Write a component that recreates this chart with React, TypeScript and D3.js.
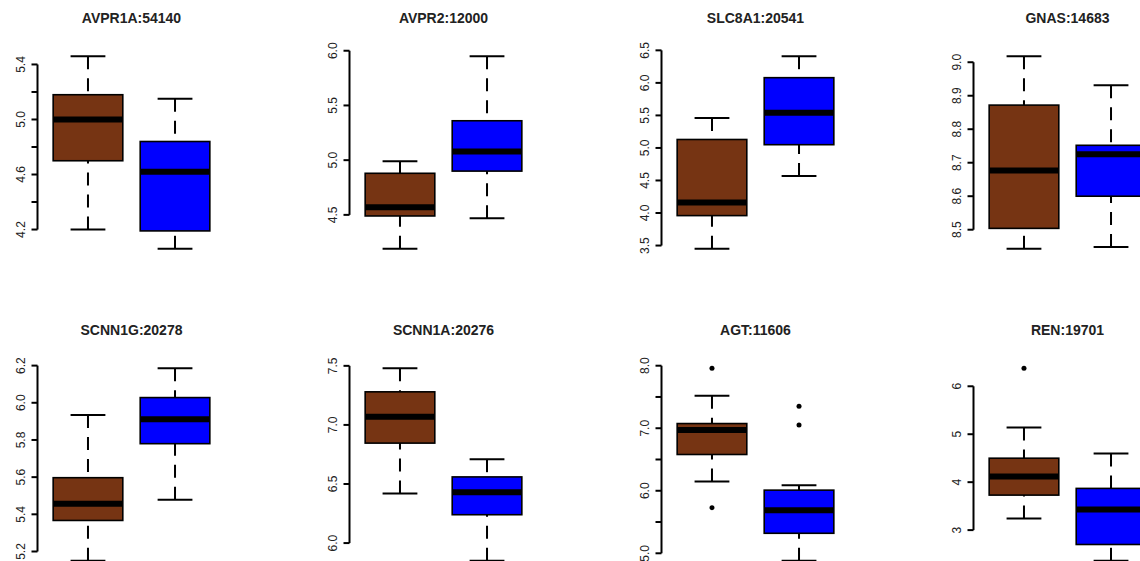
import React from "react";
import * as d3 from "d3";

const titles = ["AVPR1A:54140", "AVPR2:12000", "SLC8A1:20541", "GNAS:14683", "SCNN1G:20278", "SCNN1A:20276", "AGT:11606", "REN:19701"];

// [lower whisker, Q1, median, Q3, upper whisker]
const statsA = [
  [4.20, 4.70, 5.00, 5.18, 5.46],
  [4.19, 4.49, 4.57, 4.88, 4.99],
  [3.45, 3.96, 4.16, 5.13, 5.46],
  [8.443, 8.504, 8.677, 8.872, 9.018],
  [5.15, 5.367, 5.457, 5.597, 5.934],
  [6.42, 6.846, 7.07, 7.28, 7.48],
  [6.15, 6.58, 6.97, 7.075, 7.52],
  [3.24, 3.73, 4.12, 4.5, 5.14],
];
const statsB = [
  [4.06, 4.19, 4.62, 4.84, 5.15],
  [4.47, 4.90, 5.08, 5.36, 5.95],
  [4.57, 5.05, 5.54, 6.08, 6.41],
  [8.448, 8.60, 8.725, 8.752, 8.931],
  [5.478, 5.78, 5.911, 6.028, 6.186],
  [5.85, 6.24, 6.43, 6.56, 6.71],
  [4.88, 5.32, 5.69, 6.01, 6.09],
  [2.36, 2.70, 3.43, 3.87, 4.60],
];
const outliersA = [[], [], [], [], [], [], [7.96, 5.73], [6.377]];
const outliersB = [[], [], [], [], [], [], [7.35, 7.05], []];

const tickValues = [
  [4.2, 4.4, 4.6, 4.8, 5.0, 5.2, 5.4],
  [4.5, 5.0, 5.5, 6.0],
  [3.5, 4.0, 4.5, 5.0, 5.5, 6.0, 6.5],
  [8.5, 8.6, 8.7, 8.8, 8.9, 9.0],
  [5.2, 5.4, 5.6, 5.8, 6.0, 6.2],
  [6.0, 6.5, 7.0, 7.5],
  [5.0, 5.5, 6.0, 6.5, 7.0, 7.5, 8.0],
  [3, 4, 5, 6],
];
const tickLabels = [
  ["4.2", "", "4.6", "", "5.0", "", "5.4"],
  ["4.5", "5.0", "5.5", "6.0"],
  ["3.5", "4.0", "4.5", "5.0", "5.5", "6.0", "6.5"],
  ["8.5", "8.6", "8.7", "8.8", "8.9", "9.0"],
  ["5.2", "5.4", "5.6", "5.8", "6.0", "6.2"],
  ["6.0", "6.5", "7.0", "7.5"],
  ["5.0", "", "6.0", "", "7.0", "", "8.0"],
  ["3", "4", "5", "6"],
];
const groupColors = ["#763413", "#0000FF"];

const W = 1140, H = 561;
const PANEL_STEP = 312;
const PLOT_X0 = 37.5, PLOT_Y0 = 48.5, PLOT_W = 188, PLOT_H = 208;

function Box({ stats, outliers, cx, x, y, color }: any) {
  const bw = x(1.8) - x(1.0);
  const capHalf = bw / 4;
  const [lo, q1, med, q3, hi] = stats;
  return (
    <g>
      <line x1={cx} x2={cx} y1={y(hi)} y2={y(q3)} stroke="#000" strokeWidth={2} strokeDasharray="13 9" />
      <line x1={cx} x2={cx} y1={y(lo)} y2={y(q1)} stroke="#000" strokeWidth={2} strokeDasharray="13 9" />
      <line x1={cx - capHalf} x2={cx + capHalf} y1={y(hi)} y2={y(hi)} stroke="#000" strokeWidth={2} />
      <line x1={cx - capHalf} x2={cx + capHalf} y1={y(lo)} y2={y(lo)} stroke="#000" strokeWidth={2} />
      <rect x={cx - bw / 2} y={y(q3)} width={bw} height={y(q1) - y(q3)} fill={color} stroke="#000" strokeWidth={1.6} />
      <line x1={cx - bw / 2} x2={cx + bw / 2} y1={y(med)} y2={y(med)} stroke="#000" strokeWidth={6} />
      {outliers.map((o: number, k: number) => (
        <circle key={k} cx={cx} cy={y(o)} r={2.5} fill="#000" />
      ))}
    </g>
  );
}

function Panel({ i }: { i: number }) {
  const col = i % 4, row = Math.floor(i / 4);
  const x0 = PLOT_X0 + col * PANEL_STEP;
  const y0 = PLOT_Y0 + row * PANEL_STEP;
  const all = [...statsA[i], ...statsB[i], ...outliersA[i], ...outliersB[i]];
  const mn = d3.min(all) as number, mx = d3.max(all) as number;
  const ext = (mx - mn) * 0.04;
  const y = d3.scaleLinear().domain([mn - ext, mx + ext]).range([y0 + PLOT_H, y0]);
  const x = d3.scaleLinear().domain([0.42, 2.58]).range([x0, x0 + PLOT_W]);
  const ticks = tickValues[i];
  const axisX = x0;
  return (
    <g>
      <text x={x0 + PLOT_W / 2} y={y0 - 25.5} textAnchor="middle" fontFamily="Liberation Sans, Arial, sans-serif" fontWeight="bold" fontSize={14} fill="#222">
        {titles[i]}
      </text>
      <line x1={axisX} x2={axisX} y1={y(ticks[0])} y2={y(ticks[ticks.length - 1])} stroke="#000" strokeWidth={2} />
      {ticks.map((t, k) => (
        <g key={k}>
          <line x1={axisX - 6} x2={axisX} y1={y(t)} y2={y(t)} stroke="#000" strokeWidth={2} />
          {tickLabels[i][k] !== "" && (
            <text transform={`translate(${axisX - 13},${y(t)}) rotate(-90)`} textAnchor="middle" fontFamily="Liberation Sans, Arial, sans-serif" fontSize={12} fill="#222">
              {tickLabels[i][k]}
            </text>
          )}
        </g>
      ))}
      <Box stats={statsA[i]} outliers={outliersA[i]} cx={x(1)} x={x} y={y} color={groupColors[0]} />
      <Box stats={statsB[i]} outliers={outliersB[i]} cx={x(2)} x={x} y={y} color={groupColors[1]} />
    </g>
  );
}

export default function App() {
  return (
    <svg width={W} height={H} style={{ position: "absolute", left: 0, top: 0, background: "#fff" }}>
      <rect width={W} height={H} fill="#fff" />
      {titles.map((_, i) => (
        <Panel key={i} i={i} />
      ))}
    </svg>
  );
}
